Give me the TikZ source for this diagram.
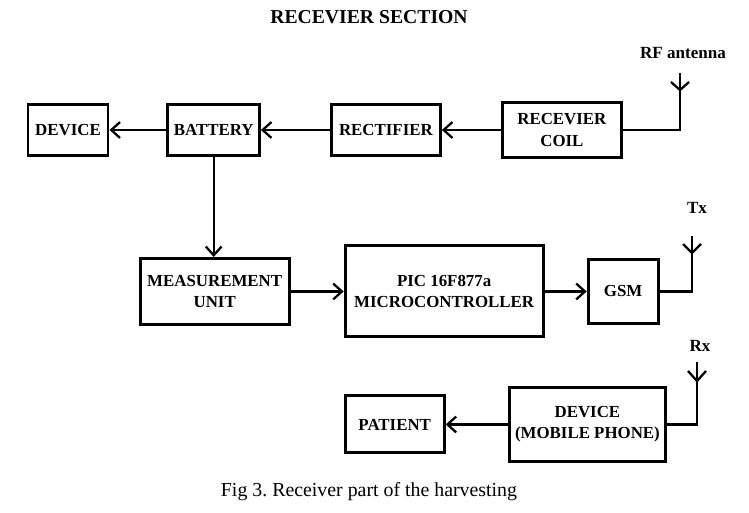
\documentclass[tikz,border=0pt]{standalone}
\usepackage{fontspec}
\setmainfont{Liberation Serif}
\usepackage{tikz}
\usetikzlibrary{arrows.meta, positioning}
\tikzset{
    block/.style={rectangle, draw=black, line width=1.7pt, fill=white, align=center, font=\fontsize{9.6}{12}\selectfont\bfseries},
    arrow/.style={-{Straight Barb[length=5pt,width=9pt]}, line width=1.3pt},
    wire/.style={line width=1.3pt},
    label_text/.style={font=\fontsize{9.7}{12}\selectfont\bfseries, inner sep=0pt}
}

\begin{document}
\begin{tikzpicture}[node distance=1.2cm]

    \useasboundingbox (0,0) rectangle (14.98,-10.26);

    \node (title) [font=\fontsize{11.2}{13}\selectfont\bfseries] at (7.38,-0.34) {RECEVIER SECTION};

    % Row 1 (right to left flow)
    \node (device)    [block, minimum width=1.6cm, minimum height=1.02cm] at (1.36,-2.6) {DEVICE};
    \node (battery)   [block, minimum width=1.8cm, minimum height=1.02cm, right=1.14cm of device] {BATTERY};
    \node (rectifier) [block, minimum width=2.18cm, minimum height=1.02cm, right=1.38cm of battery] {RECTIFIER};
    \node (coil)      [block, minimum width=2.38cm, minimum height=1.1cm, right=1.18cm of rectifier] {RECEVIER\\COIL};

    % Row 2
    \node (meas) [block, minimum width=2.98cm, minimum height=1.32cm, below=2cm of battery, xshift=0.02cm] {MEASUREMENT\\UNIT};
    \node (pic)  [block, minimum width=3.96cm, minimum height=1.82cm, right=1.06cm of meas] {PIC 16F877a\\MICROCONTROLLER};
    \node (gsm)  [block, minimum width=1.4cm, minimum height=1.28cm, right=0.84cm of pic] {GSM};

    % Row 3
    \node (patient) [block, minimum width=1.98cm, minimum height=1.14cm, below=1.12cm of pic.south west, anchor=north west] {PATIENT};
    \node (phone)   [block, minimum width=3.02cm, minimum height=1.48cm, right=1.24cm of patient] {DEVICE\\(MOBILE PHONE)};

    % Antennas
    \coordinate (rfant) at (13.6,-1.46);
    \coordinate (txant) at (13.84,-4.72);
    \coordinate (rxant) at (13.94,-7.24);
    \node (rflabel) [label_text] at (13.66,-1.06) {RF antenna};
    \node (txlabel) [label_text] at (13.94,-4.16) {Tx};
    \node (rxlabel) [label_text] at (14.0,-6.92) {Rx};

    \draw [wire] (coil.east) -| (rfant);
    \draw [wire] (rfant) ++(-0.18,-0.18) -- ++(0.18,-0.16) -- ++(0.18,0.16);
    \draw [wire] (gsm.east) -| (txant);
    \draw [wire] (txant) ++(-0.18,-0.16) -- ++(0.18,-0.18) -- ++(0.18,0.18);
    \draw [wire] (phone.east) -| (rxant);
    \draw [wire] (rxant) ++(-0.18,-0.18) -- ++(0.18,-0.2) -- ++(0.18,0.2);

    % Arrows
    \draw [arrow] (coil) -- (rectifier);
    \draw [arrow] (rectifier) -- (battery);
    \draw [arrow] (battery) -- (device);
    \draw [arrow] (battery.south) -- (battery.south |- meas.north);
    \draw [arrow] (meas) -- (pic);
    \draw [arrow] (pic) -- (gsm);
    \draw [arrow] (phone) -- (patient);

    \node (caption) [font=\fontsize{11.3}{13}\selectfont] at (7.38,-9.84) {Fig 3.\ Receiver part of the harvesting};

\end{tikzpicture}
\end{document}
